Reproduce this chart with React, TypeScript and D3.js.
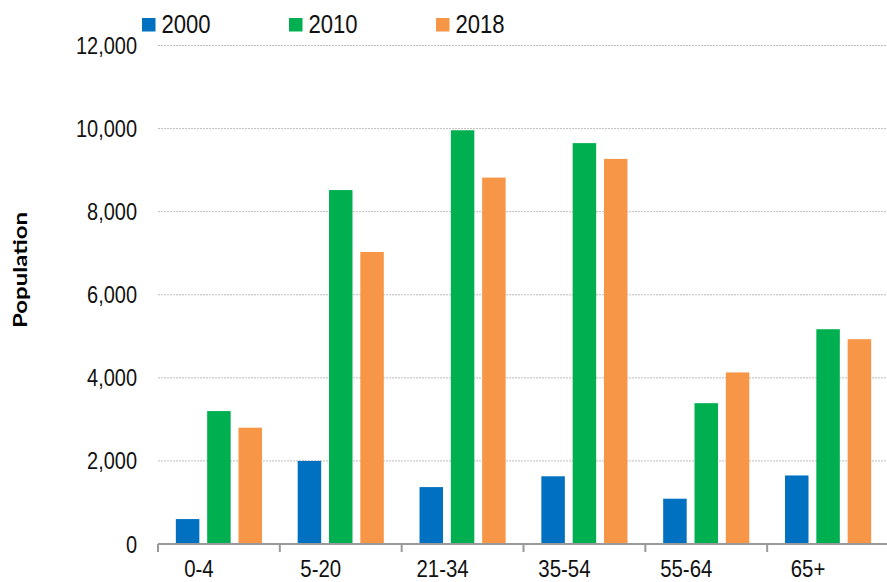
import React from "react";
import * as d3 from "d3";

const categories = ["0-4", "5-20", "21-34", "35-54", "55-64", "65+"];
const seriesNames = ["2000", "2010", "2018"];
const values2000 = [600, 2000, 1370, 1630, 1090, 1650];
const values2010 = [3200, 8520, 9960, 9650, 3390, 5170];
const values2018 = [2800, 7030, 8820, 9270, 4130, 4930];
const colors = ["#0070C0", "#00B050", "#F79646"];
const yTicks = [0, 2000, 4000, 6000, 8000, 10000, 12000];

const W = 887;
const H = 582;
const SX = 0.85;
const FONT = "'Liberation Sans', Arial, sans-serif";

function Txt({ x, y, anchor = "start", size, children, weight = "normal" }: any) {
  return (
    <text
      transform={`translate(${x},${y}) scale(${SX},1)`}
      textAnchor={anchor}
      fontFamily={FONT}
      fontSize={size}
      fontWeight={weight}
      fill="#111"
    >
      {children}
    </text>
  );
}

export default function App() {
  const series = [values2000, values2010, values2018];
  const x = d3.scaleBand<string>().domain(categories).range([158, 889]).padding(0);
  const xs = d3
    .scaleBand<string>()
    .domain(seriesNames)
    .range([0, x.bandwidth()])
    .paddingInner(0.25)
    .paddingOuter(0.57);
  const y = d3.scaleLinear().domain([0, 12000]).range([544, 45.5]);
  const fmt = d3.format(",");

  return (
    <svg
      width={W}
      height={H}
      style={{ position: "absolute", left: 0, top: 0, background: "#fff" }}
    >
      {yTicks.filter((t) => t > 0).map((t) => (
        <line
          key={t}
          x1={158}
          x2={W}
          y1={y(t)}
          y2={y(t)}
          stroke="#bdbdbd"
          strokeWidth={1}
          strokeDasharray="2,1"
        />
      ))}
      {yTicks.map((t) => (
        <Txt key={t} x={137} y={y(t) + 8.5} anchor="end" size={23.5}>
          {fmt(t)}
        </Txt>
      ))}
      {categories.map((c, i) => (
        <g key={c}>
          {series.map((s, j) => (
            <rect
              key={j}
              x={(x(c) as number) + (xs(seriesNames[j]) as number)}
              y={y(s[i])}
              width={xs.bandwidth()}
              height={y(0) - y(s[i])}
              fill={colors[j]}
            />
          ))}
        </g>
      ))}
      <line x1={158} x2={W} y1={544} y2={544} stroke="#999" strokeWidth={2} />
      {categories.map((c) => (
        <line
          key={c}
          x1={x(c) as number}
          x2={x(c) as number}
          y1={544}
          y2={552}
          stroke="#999"
          strokeWidth={2}
        />
      ))}
      {categories.map((c) => (
        <Txt
          key={c}
          x={(x(c) as number) + x.bandwidth() / 2 - 20}
          y={577}
          anchor="middle"
          size={24}
        >
          {c}
        </Txt>
      ))}
      <text
        transform="translate(27,270) rotate(-90)"
        textAnchor="middle"
        fontFamily="Lato, 'Open Sans', sans-serif"
        fontWeight="bold"
        fontSize={19}
        textLength={116}
        lengthAdjust="spacingAndGlyphs"
        fill="#000"
      >
        Population
      </text>
      {seriesNames.map((n, j) => (
        <g key={n}>
          <rect x={142 + j * 147} y={18} width={13.5} height={13.5} fill={colors[j]} />
          <Txt x={161.5 + j * 147} y={33} size={26}>
            {n}
          </Txt>
        </g>
      ))}
    </svg>
  );
}
